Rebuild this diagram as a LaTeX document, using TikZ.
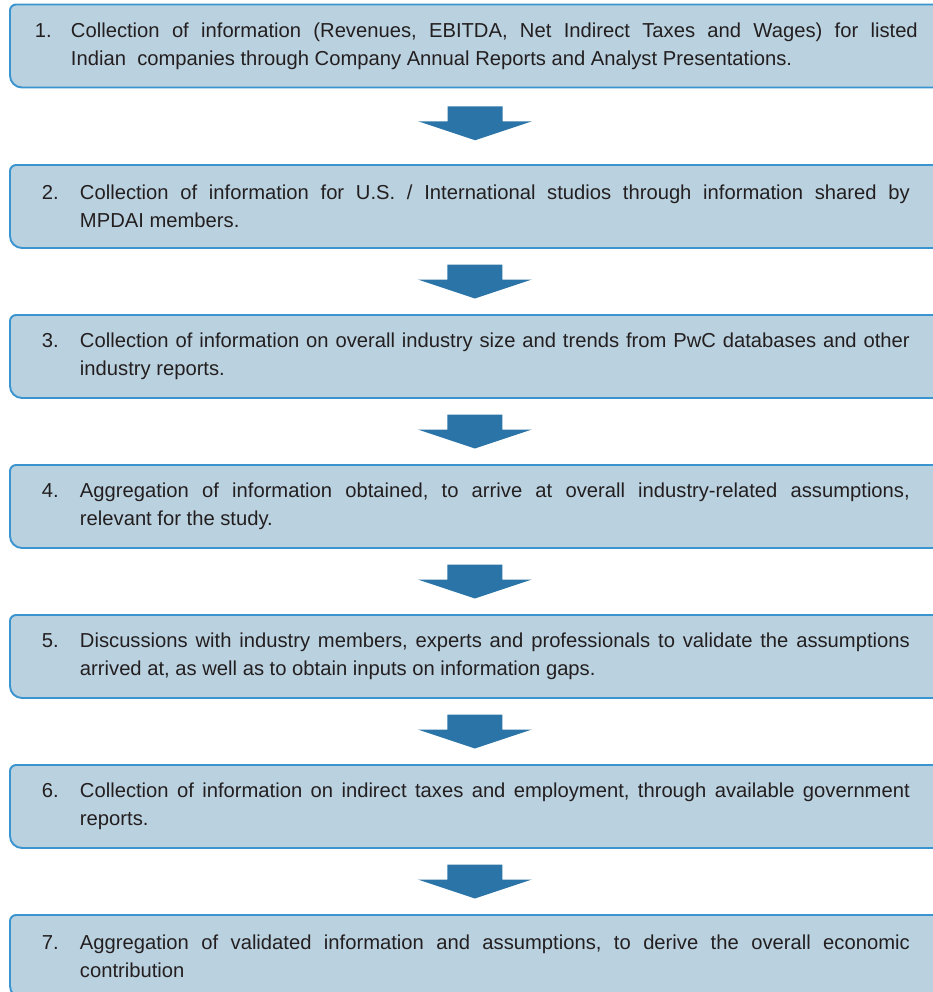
\documentclass[tikz,border=0pt]{standalone}
\usepackage{fontspec}
\setmainfont{Liberation Sans}
\usetikzlibrary{calc,backgrounds}

\definecolor{cajaazul}{RGB}{186,209,223}
\definecolor{bordeazul}{RGB}{58,148,208}
\definecolor{flechaazul}{RGB}{42,116,168}
\definecolor{textogris}{RGB}{35,31,32}

\tikzset{
  caja/.style={anchor=west, outer sep=0pt, minimum height=1.66cm, align=left,
    text=textogris, font=\fontsize{11.5pt}{15.9pt}\selectfont},
  caja1/.style={caja, text width=17.66cm, inner xsep=0.5cm},
  cajan/.style={caja, text width=17.36cm, inner xsep=0.64cm},
  borde/.style={draw=bordeazul, line width=1.1pt, fill=cajaazul},
  flecha/.style={fill=flechaazul},
}

% numero colgado + texto justificado
\newcommand{\paso}[4]{\makebox[#1][l]{#2}\parbox[t]{#3}{\rightskip=0pt\relax
  \parfillskip=0pt plus 1fil\relax \spaceskip=0.278em plus 0.4em minus 0.12em\relax
  \frenchspacing\hyphenpenalty=10000\relax \exhyphenpenalty=10000\relax #4}}
% contorno de caja: arriba, izquierda, abajo
\newcommand{\contorno}[1]{\draw[borde] (#1.north east) -- ([xshift=0.12cm]#1.north west)
  arc[start angle=90,end angle=180,radius=0.12cm] -- ([yshift=0.24cm]#1.south west)
  arc[start angle=180,end angle=270,radius=0.24cm] -- (#1.south east);}

\begin{document}
\begin{tikzpicture}[x=0.02cm,y=0.02cm]
%\draw[help lines](0,0) grid (933,-992);
\useasboundingbox (0,0) rectangle (933,-992);
\clip (0,0) rectangle (933,-992);

\node[caja1] (p1) at (10,-46) {\paso{0.72cm}{1.}{16.94cm}{Collection of information (Revenues, EBITDA, Net Indirect Taxes and Wages) for listed\linebreak Indian~ companies through Company Annual Reports and Analyst Presentations.}}; % caja 1
\node[cajan] (p2) at (10,-206.5) {\paso{0.76cm}{2.}{16.6cm}{Collection of information for U.S. / International studios through information shared by\linebreak MPDAI members.}}; % caja 2
\node[cajan] (p3) at (10,-356.5) {\paso{0.76cm}{3.}{16.6cm}{Collection of information on overall industry size and trends from PwC databases and other\linebreak industry reports.}}; % caja 3
\node[cajan] (p4) at (10,-506.5) {\paso{0.76cm}{4.}{16.6cm}{Aggregation of information obtained, to arrive at overall industry-related assumptions,\linebreak relevant for the study.}}; % caja 4
\node[cajan] (p5) at (10,-656.5) {\paso{0.76cm}{5.}{16.6cm}{Discussions with industry members, experts and professionals to validate the assumptions\linebreak arrived at, as well as to obtain inputs on information gaps.}}; % caja 5
\node[cajan] (p6) at (10,-806.5) {\paso{0.76cm}{6.}{16.6cm}{Collection of information on indirect taxes and employment, through available government\linebreak reports.}}; % caja 6
\node[cajan] (p7) at (10,-956.5) {\paso{0.76cm}{7.}{16.6cm}{Aggregation of validated information and assumptions, to derive the overall economic\linebreak contribution}}; % caja 7

\begin{pgfonlayer}{background}
\contorno{p1} % borde 1
\contorno{p2} % borde 2
\contorno{p3} % borde 3
\contorno{p4} % borde 4
\contorno{p5} % borde 5
\contorno{p6} % borde 6
\contorno{p7} % borde 7
\end{pgfonlayer}

\fill[flecha] ($(p1.south)!0.5!(p2.north)$) ++(-28.5,20) -- ++(55,0) -- ++(0,-15) -- ++(29.5,0) -- ++(-57,-19) -- ++(-57,19) -- ++(29.5,0) -- cycle; % flecha 1-2
\fill[flecha] ($(p2.south)!0.5!(p3.north)$) ++(-28.5,17) -- ++(55,0) -- ++(0,-15) -- ++(29.5,0) -- ++(-57,-19) -- ++(-57,19) -- ++(29.5,0) -- cycle; % flecha 2-3
\fill[flecha] ($(p3.south)!0.5!(p4.north)$) ++(-28.5,17) -- ++(55,0) -- ++(0,-15) -- ++(29.5,0) -- ++(-57,-19) -- ++(-57,19) -- ++(29.5,0) -- cycle; % flecha 3-4
\fill[flecha] ($(p4.south)!0.5!(p5.north)$) ++(-28.5,17) -- ++(55,0) -- ++(0,-15) -- ++(29.5,0) -- ++(-57,-19) -- ++(-57,19) -- ++(29.5,0) -- cycle; % flecha 4-5
\fill[flecha] ($(p5.south)!0.5!(p6.north)$) ++(-28.5,17) -- ++(55,0) -- ++(0,-15) -- ++(29.5,0) -- ++(-57,-19) -- ++(-57,19) -- ++(29.5,0) -- cycle; % flecha 5-6
\fill[flecha] ($(p6.south)!0.5!(p7.north)$) ++(-28.5,17) -- ++(55,0) -- ++(0,-15) -- ++(29.5,0) -- ++(-57,-19) -- ++(-57,19) -- ++(29.5,0) -- cycle; % flecha 6-7

\end{tikzpicture}
\end{document}
